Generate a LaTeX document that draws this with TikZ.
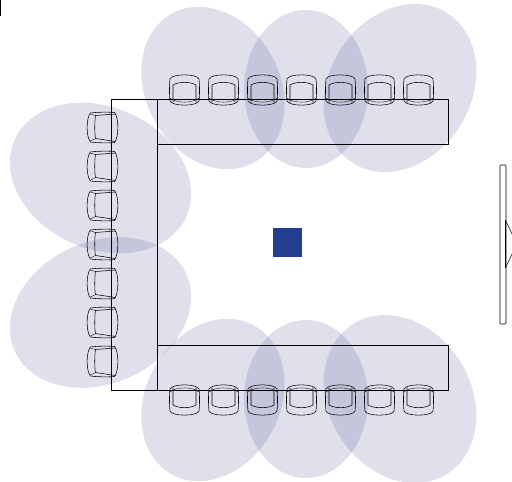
\documentclass[tikz,border=0pt]{standalone}
\definecolor{lobecol}{RGB}{17,17,109}
\definecolor{squarecol}{RGB}{33,62,145}
\tikzset{
  lobe/.style={fill=lobecol,fill opacity=.13,draw=none},
  tbl/.style={draw=black,line width=.5pt},
  chairline/.style={line width=.55pt},
  chair/.pic={
    \draw[chairline] (-14.5,-11) .. controls (-13,-16.5) and (13,-16.5) .. (14.5,-11)
      .. controls (15.2,-5) and (15.2,6) .. (14.5,11) .. controls (12,16.5) and (-12,16.5) .. (-14.5,11)
      .. controls (-15.2,6) and (-15.2,-5) .. (-14.5,-11) -- cycle;
    \draw[chairline] (-11.5,12.5) -- (-11.5,-5) .. controls (-6,-8.5) and (6,-8.5) .. (11.5,-5) -- (11.5,12.5);
    \draw[line width=.35pt] (-14.5,8) .. controls (-8,13.5) and (8,13.5) .. (14.5,8);
  },
  sidechair/.pic={
    \draw[chairline] (-12,-14.5) .. controls (-16.5,-10) and (-16.5,10) .. (-12,14.5)
      .. controls (-5,15.5) and (6,15.5) .. (12,15) .. controls (16.5,10) and (16.5,-10) .. (12,-15)
      .. controls (6,-15.5) and (-5,-15.5) .. (-12,-14.5) -- cycle;
    \draw[chairline] (13,-13.5) -- (-7,-12) .. controls (-8,-6) and (-8,6) .. (-7,11) -- (13,14);
    \draw[line width=.35pt] (-12,-13.5) -- (-7,-12) (-12,13.5) -- (-7,11);
  }
}
\begin{document}
\begin{tikzpicture}[x=1pt,y=-1pt]
\useasboundingbox (0,0) rectangle (512,482);
% top lobes
\fill[lobe,rotate around={29:(213,88)}] (213,88) ellipse [x radius=67,y radius=85];
\fill[lobe] (306,89) ellipse [x radius=62,y radius=79];
\fill[lobe,rotate around={-32:(400,88)}] (400,88) ellipse [x radius=71,y radius=88.5];
% bottom lobes
\fill[lobe,rotate around={-29:(213,400)}] (213,400) ellipse [x radius=67,y radius=85];
\fill[lobe] (306,399) ellipse [x radius=62,y radius=79];
\fill[lobe,rotate around={32:(400,399)}] (400,399) ellipse [x radius=71,y radius=88.5];
% left lobes
\fill[lobe,rotate around={-24:(100.5,178)}] (100.5,178) ellipse [x radius=94,y radius=71];
\fill[lobe,rotate around={24:(100.5,312.5)}] (100.5,312.5) ellipse [x radius=94,y radius=71];
% tables
\draw[tbl] (157,99) rectangle (448,144);
\draw[tbl] (111,99) rectangle (157,390);
\draw[tbl] (157,345) rectangle (448,390);
% centre square
\fill[squarecol] (273,228) rectangle (302,257);
% screen
\draw[line width=.6pt,rounded corners=1pt] (500,165) rectangle (506,324);
\draw[line width=.8pt] (505.5,220) -- (505.5,268);
\draw[line width=.5pt] (505.5,220) -- (512,234) (505.5,268) -- (512,254);
% corner bar
\fill[black] (0,0) rectangle (1.2,16);
% chairs
\foreach \x in {184.5,223.5,262.5,301.5,340.5,379.5,418.5} {
  \pic at (\x,90) {chair};
  \pic[yscale=-1] at (\x,400) {chair};
}
\foreach \y in {127.5,166.5,205.5,244.5,283.5,322.5,361.5} {
  \pic at (102.5,\y) {sidechair};
}
\end{tikzpicture}
\end{document}
